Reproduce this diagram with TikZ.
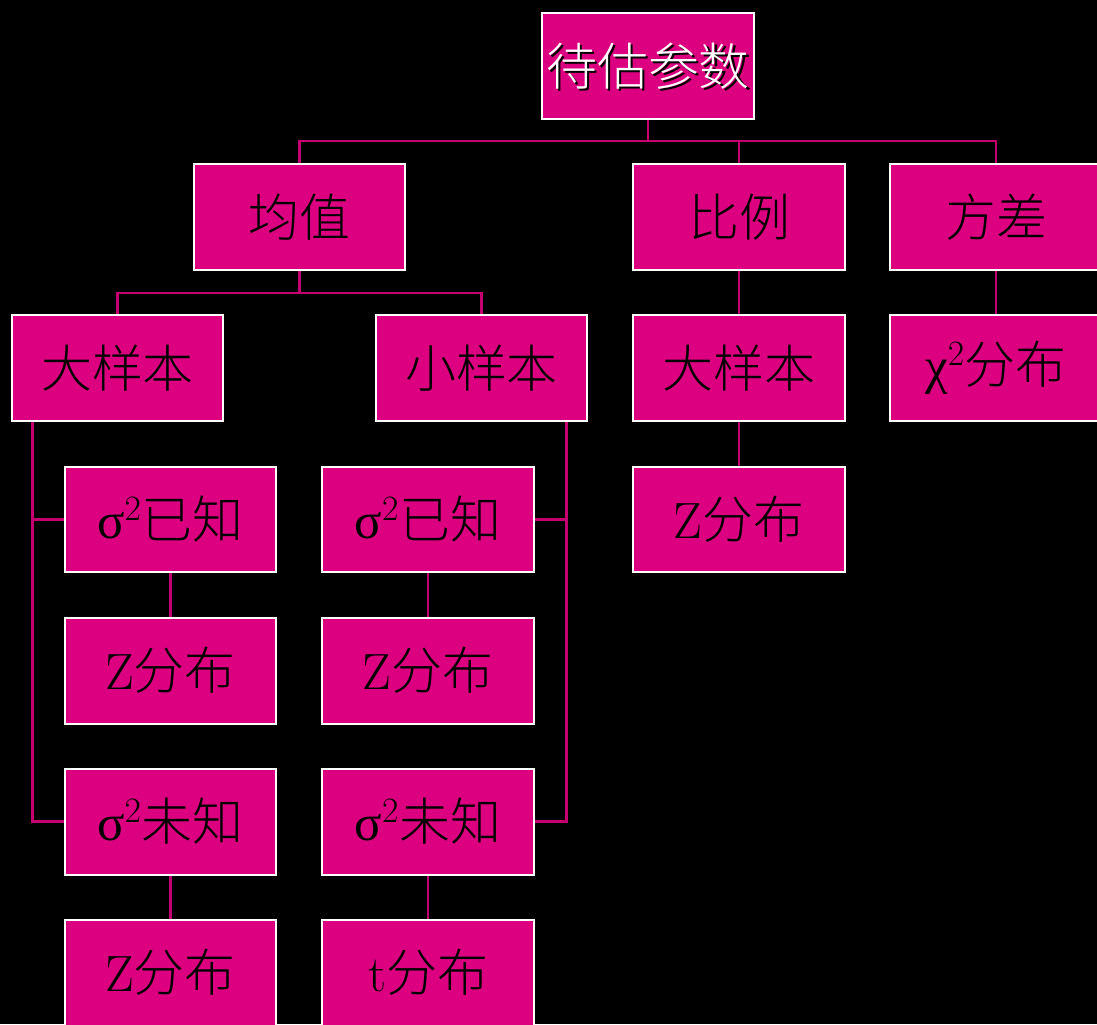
\RequirePackage{fix-cm}
\documentclass[tikz,border=0pt]{standalone}
\usepackage{fontspec}
\usepackage{amsmath}
\newfontfamily\cjk{Noto Sans CJK SC Light}
\newfontfamily\greek{Liberation Serif}
\definecolor{boxpink}{RGB}{220,0,128}
\definecolor{linkpink}{RGB}{196,0,112}

\tikzset{
  pbox/.style={rectangle,draw=white,line width=0.04cm,fill=boxpink,
    minimum width=4.24cm,minimum height=2.12cm,inner sep=0pt,
    font=\cjk\fontsize{29}{31}\selectfont},
  link/.style={draw=linkpink,line width=0.05cm}
}
\newcommand{\gsq}[1]{{\greek #1}$^2$}

\begin{document}
\begin{tikzpicture}[x=0.02cm,y=-0.02cm]

      \fill[black] (0,0) rectangle (1097,1024);
      \useasboundingbox (0,0) rectangle (1097,1024);
      \clip (0,0) rectangle (1097,1024);

      \begin{scope}[every node/.style={pbox}]
        \node (root) at (648,66) {};
        \node (mean) at (299.5,217) {均值};
        \node (ratio) at (739,217) {比例};
        \node (var) at (996,217) {方差};
        \node (bigA) at (117.5,368) {大样本};
        \node (smallB) at (481.5,368) {小样本};
        \node (bigC) at (739,368) {大样本};
        \node (chi) at (996,368) {\gsq{χ}分布};
        \node (lknown) at (170.5,519.5) {\gsq{σ}已知};
        \node (rknown) at (428,519.5) {\gsq{σ}已知};
        \node (zC) at (739,519.5) {$\mathrm{Z}$分布};
        \node (lz1) at (170.5,670.5) {$\mathrm{Z}$分布};
        \node (rz1) at (428,670.5) {$\mathrm{Z}$分布};
        \node (lunk) at (170.5,821.5) {\gsq{σ}未知};
        \node (runk) at (428,821.5) {\gsq{σ}未知};
        \node (lz2) at (170.5,972.5) {$\mathrm{Z}$分布};
        \node (rt) at (428,972.5) {$\mathrm{t}$分布};
      \end{scope}

      % shadowed title
      \node[font=\cjk\fontsize{29}{31}\selectfont,text=black] at ([shift={(0.05cm,-0.05cm)}]root.center) {待估参数};
      \node[font=\cjk\fontsize{29}{31}\selectfont,text=white] at (root.center) {待估参数};

      \begin{scope}[every path/.style={link}]
        \draw (root.south) -- ++(0,21) -| (mean.north);
        \draw (root.south) -- ++(0,21) -| (ratio.north);
        \draw (root.south) -- ++(0,21) -| (var.north);

        \draw (mean.south) -- ++(0,22) -| (bigA.north);
        \draw (mean.south) -- ++(0,22) -| (smallB.north);
        \draw (ratio) -- (bigC);
        \draw (var) -- (chi);
        \draw (bigC) -- (zC);

        \draw ([xshift=0.44cm]bigA.south west) |- (lknown.west);
        \draw ([xshift=0.44cm]bigA.south west) |- (lunk.west);
        \draw ([xshift=-0.44cm]smallB.south east) |- (rknown.east);
        \draw ([xshift=-0.44cm]smallB.south east) |- (runk.east);

        \draw (lknown) -- (lz1);
        \draw (lunk) -- (lz2);
        \draw (rknown) -- (rz1);
        \draw (runk) -- (rt);
      \end{scope}

\end{tikzpicture}
\end{document}
